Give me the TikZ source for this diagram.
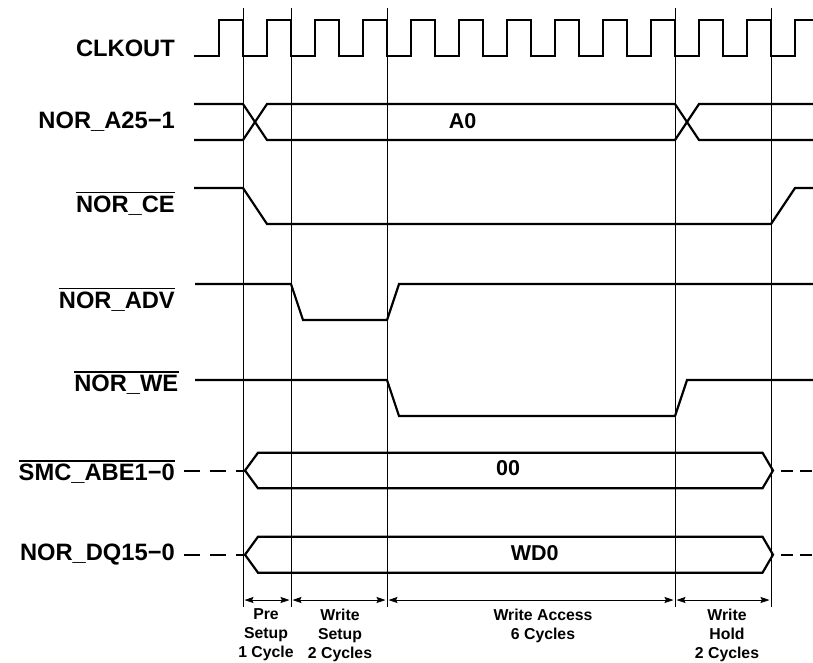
\documentclass[tikz,border=0pt]{standalone}
\usepackage{fontspec}
\setmainfont{Liberation Sans}
\usetikzlibrary{arrows.meta}
\begin{document}
\begin{tikzpicture}[x=1pt,y=-1pt,
  sig/.style={line width=2.2pt},
  clk/.style={line width=1.6pt},
  vline/.style={line width=1pt},
  dim/.style={line width=0.9pt,{Stealth[length=9pt,width=6pt,inset=1.5pt]}-{Stealth[length=9pt,width=6pt,inset=1.5pt]},shorten <=1.5pt,shorten >=1.5pt},
  dashsig/.style={line width=2pt},
  lbl/.style={anchor=base east,inner sep=0pt,font=\bfseries\fontsize{23.7}{27}\selectfont},
  val/.style={anchor=base,inner sep=0pt,font=\bfseries\fontsize{21.5}{24}\selectfont},
  captxt/.style={anchor=north,inner sep=0pt,align=center,font=\bfseries\fontsize{15.8}{19}\selectfont},
  ovl/.style={line width=1.4pt}
]
\useasboundingbox (0,0) rectangle (813,662);

% vertical reference lines
\foreach \n/\x in {1/243,2/291,3/387,4/675,5/771}{
  \coordinate (v\n t) at (\x,8);
  \coordinate (v\n b) at (\x,607);
  \coordinate (d\n) at (\x,600);
  \draw[vline] (v\n t) -- (v\n b);
}

% labels
\node[lbl] (clk) at (175,56) {CLKOUT};
\node[lbl] (adr) at (175,128.3) {NOR\_A25−1};
\node[lbl] (ce) at (175,212.3) {NOR\_CE};
\node[lbl] (adv) at (175,308.3) {NOR\_ADV};
\node[lbl] (we) at (178.5,391.7) {NOR\_WE};
\node[lbl] (abe) at (175,480.7) {SMC\_ABE1−0};
\node[lbl] (dq) at (175,560) {NOR\_DQ15−0};
\foreach \l in {ce,adv,we,abe}{
  \draw[ovl] ([yshift=3pt]\l.north west) -- ([yshift=3pt]\l.north east);
}

% clock
\draw[clk] (194,56)
  \foreach \k in {0,...,11}{ -- ({219+48*\k},56) -- ({219+48*\k},20) -- ({243+48*\k},20) -- ({243+48*\k},56) }
  -- (795,56) -- (795,20) -- (813,20);

% address
\draw[sig] (194,104) -- (243,104) -- (267,140) -- (675,140) -- (699,104) -- (813,104);
\draw[sig] (194,140) -- (243,140) -- (267,104) -- (675,104) -- (699,140) -- (813,140);
\node[val] (a0) at (462.7,128.3) {A0};

% CE
\draw[sig] (194,188) -- (243,188) -- (267,224) -- (771,224) -- (795,188) -- (813,188);

% ADV
\draw[sig] (195,284) -- (291,284) -- (303,320) -- (387,320) -- (399,284) -- (813,284);

% WE
\draw[sig] (195,380) -- (387,380) -- (399,416) -- (675,416) -- (687,380) -- (813,380);

% ABE bus
\draw[sig] (245,470.5) -- (258,452.7) -- (762.5,452.7) -- (773,470.5) -- (762.5,488.3) -- (258,488.3) -- cycle;
\draw[dashsig,dash pattern=on 16pt off 10pt] (184,471) -- (245,471);
\draw[dashsig,dash pattern=on 12pt off 7pt] (781,471) -- (813,471);
\node[val] (v00) at (508,475.5) {00};

% DQ bus
\draw[sig] (245,554.7) -- (258,536.7) -- (762.5,536.7) -- (773,554.7) -- (762.5,572.7) -- (258,572.7) -- cycle;
\draw[dashsig,dash pattern=on 16pt off 10pt] (184,555) -- (245,555);
\draw[dashsig,dash pattern=on 12pt off 7pt] (781,555) -- (813,555);
\node[val] (wd0) at (534.7,560.5) {WD0};

% dimension arrows
\draw[dim] (d1) -- (d2);
\draw[dim] (d2) -- (d3);
\draw[dim] (d3) -- (d4);
\draw[dim] (d4) -- (d5);

\node[captxt] (c1) at (266,608.8) {Pre\\Setup\\1 Cycle};
\node[captxt] (c2) at (340,608.8) {Write\\Setup\\2 Cycles};
\node[captxt] (c3) at (543,608.8) {Write Access\\6 Cycles};
\node[captxt] (c4) at (727,608.8) {Write\\Hold\\2 Cycles};
\end{tikzpicture}
\end{document}
